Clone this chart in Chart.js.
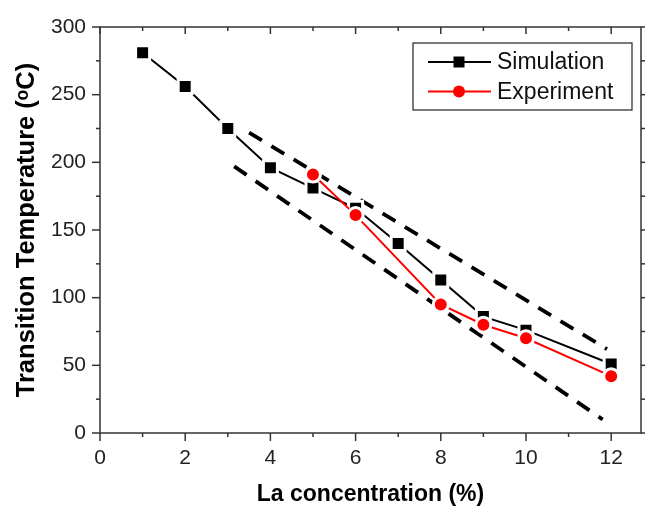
<!DOCTYPE html>
<html>
<head>
<meta charset="utf-8">
<script src="https://cdn.jsdelivr.net/npm/chart.js@4/dist/chart.umd.min.js"></script>
<style>
  html, body { margin: 0; padding: 0; background: #fff; }
  #wrap { width: 645px; height: 508px; }
</style>
</head>
<body>
<div id="wrap"><canvas id="c" width="645" height="508"></canvas></div>
<script>
// La concentration (%) vs. transition temperature (°C)
const simX = [1, 2, 3, 4, 5, 6, 7, 8, 9, 10, 12];
const simulation = [281, 256, 225, 196, 181, 166, 140, 113, 86, 76, 51];

const expX = [5, 6, 8, 9, 10, 12];
const experiment = [191, 161, 95, 80, 70, 42];

// dashed guide lines bracketing the trend
const upperGuideX = [3.5, 11.9];
const upperGuideY = [222, 62];
const lowerGuideX = [3.15, 11.8];
const lowerGuideY = [197, 10];

// axis ticks
const xMajor = [0, 2, 4, 6, 8, 10, 12];
const xMinor = [1, 3, 5, 7, 9, 11];
const yMajor = [0, 50, 100, 150, 200, 250, 300];
const yMinor = [25, 75, 125, 175, 225, 275];

const pts = (xs, ys) => xs.map((x, i) => ({ x: x, y: ys[i] }));

const AXIS = '#333';
const FONT = "'Liberation Sans', Arial, sans-serif";

// frame with ticks on all four sides
const framePlugin = {
  id: 'frame',
  afterDatasetsDraw(chart) {
    const { ctx, chartArea: a, scales: { x, y } } = chart;
    ctx.save();
    ctx.strokeStyle = AXIS;
    ctx.lineWidth = 1.5;
    ctx.strokeRect(a.left, a.top, a.right - a.left, a.bottom - a.top);
    const tick = (x1, y1, x2, y2) => {
      ctx.beginPath(); ctx.moveTo(x1, y1); ctx.lineTo(x2, y2); ctx.stroke();
    };
    xMajor.forEach(v => {
      const px = x.getPixelForValue(v);
      tick(px, a.bottom, px, a.bottom + 8);
      tick(px, a.top, px, a.top + 7);
    });
    xMinor.forEach(v => {
      const px = x.getPixelForValue(v);
      tick(px, a.bottom, px, a.bottom + 4);
      tick(px, a.top, px, a.top + 4);
    });
    yMajor.forEach(v => {
      const py = y.getPixelForValue(v);
      tick(a.left - 8, py, a.left, py);
      tick(a.right, py, a.right + 8, py);
    });
    yMinor.forEach(v => {
      const py = y.getPixelForValue(v);
      tick(a.left - 4, py, a.left, py);
      tick(a.right, py, a.right + 4, py);
    });
    ctx.restore();
  }
};

// boxed legend with line-and-marker samples
const legendPlugin = {
  id: 'boxLegend',
  afterDraw(chart) {
    const { ctx } = chart;
    const items = chart.data.datasets.filter(d => d.inLegend);
    const bx = 413, by = 43, bw = 219, bh = 67;
    ctx.save();
    ctx.fillStyle = '#fff';
    ctx.fillRect(bx, by, bw, bh);
    ctx.strokeStyle = '#222';
    ctx.lineWidth = 1.2;
    ctx.strokeRect(bx, by, bw, bh);
    items.forEach((d, i) => {
      const cy = 62 + i * 29.5;
      ctx.strokeStyle = d.borderColor;
      ctx.lineWidth = 2;
      ctx.beginPath(); ctx.moveTo(428, cy); ctx.lineTo(491, cy); ctx.stroke();
      ctx.fillStyle = d.pointBackgroundColor;
      if (d.pointStyle === 'rect') {
        ctx.fillRect(459 - 5.5, cy - 5.5, 11, 11);
      } else {
        ctx.beginPath(); ctx.arc(459, cy, 6, 0, Math.PI * 2); ctx.fill();
      }
      ctx.fillStyle = '#111';
      ctx.font = '23px ' + FONT;
      ctx.textBaseline = 'middle';
      ctx.textAlign = 'left';
      ctx.fillText(d.label, 497, cy + 1);
    });
    ctx.restore();
  }
};

new Chart(document.getElementById('c'), {
  type: 'line',
  data: {
    datasets: [
      {
        label: 'Simulation',
        inLegend: true,
        data: pts(simX, simulation),
        borderColor: '#000',
        borderWidth: 2,
        pointStyle: 'rect',
        pointRadius: 9.9,
        pointBackgroundColor: '#000',
        pointBorderColor: '#fff',
        pointBorderWidth: 3,
        order: 1
      },
      {
        label: 'Experiment',
        inLegend: true,
        data: pts(expX, experiment),
        borderColor: '#ff0000',
        borderWidth: 2,
        pointStyle: 'circle',
        pointRadius: 7.5,
        pointBackgroundColor: '#ff0000',
        pointBorderColor: '#fff',
        pointBorderWidth: 3,
        order: 0
      },
      {
        label: 'upper',
        data: pts(upperGuideX, upperGuideY),
        borderColor: '#000',
        borderWidth: 3.8,
        borderDash: [15, 11],
        pointRadius: 0,
        order: 2
      },
      {
        label: 'lower',
        data: pts(lowerGuideX, lowerGuideY),
        borderColor: '#000',
        borderWidth: 3.8,
        borderDash: [15, 11],
        pointRadius: 0,
        order: 2
      }
    ]
  },
  options: {
    responsive: false,
    animation: false,
    events: [],
    layout: { autoPadding: false, padding: { top: 27, right: 4, left: 0, bottom: 0 } },
    plugins: { legend: { display: false }, tooltip: { enabled: false } },
    scales: {
      x: {
        type: 'linear',
        min: 0,
        max: 12.7,
        afterBuildTicks: s => { s.ticks = xMajor.map(v => ({ value: v })); },
        afterFit: s => { s.height = 75; s.paddingLeft = 0; s.paddingRight = 0; },
        grid: { display: false, drawTicks: false },
        border: { display: false },
        ticks: { color: '#222', padding: 13, font: { family: FONT, size: 21 } },
        title: {
          display: true,
          text: 'La concentration (%)',
          color: '#000',
          padding: { top: 0, bottom: 0 },
          font: { family: FONT, size: 23, weight: 'bold', lineHeight: 1.2 }
        }
      },
      y: {
        type: 'linear',
        min: 0,
        max: 300,
        afterBuildTicks: s => { s.ticks = yMajor.map(v => ({ value: v })); },
        afterFit: s => { s.width = 100; s.paddingTop = 0; s.paddingBottom = 0; },
        grid: { display: false, drawTicks: false },
        border: { display: false },
        ticks: { color: '#222', padding: 14, font: { family: FONT, size: 21 } },
        title: {
          display: true,
          text: 'Transition Temperature (ᵒC)',
          color: '#000',
          padding: { top: 12, bottom: 0 },
          font: { family: FONT, size: 25.5, weight: 'bold', lineHeight: 1.2 }
        }
      }
    }
  },
  plugins: [framePlugin, legendPlugin]
});
</script>
</body>
</html>
